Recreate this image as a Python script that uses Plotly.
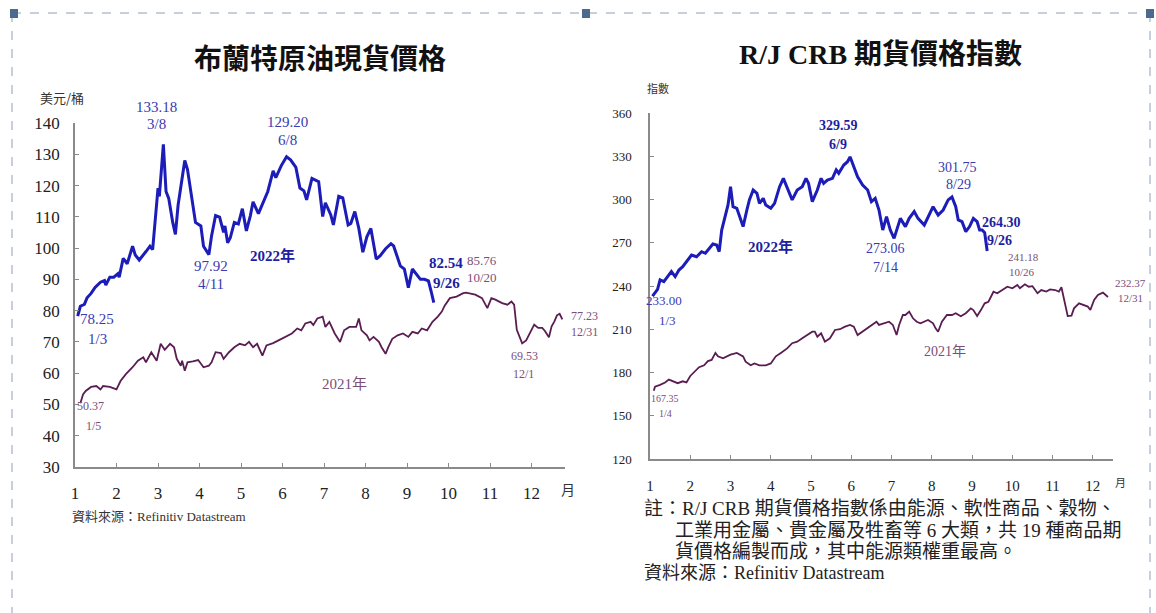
import plotly.graph_objects as go
import pandas as pd

# ---- Brent spot price (US$/bbl) ----
brent22_dates = ["2022-01-03", "2022-01-05", "2022-01-08", "2022-01-10", "2022-01-13", "2022-01-16",
                 "2022-01-20", "2022-01-23", "2022-01-24", "2022-01-27", "2022-01-30", "2022-02-02",
                 "2022-02-03", "2022-02-06", "2022-02-09", "2022-02-13", "2022-02-15", "2022-02-18",
                 "2022-02-23", "2022-02-26", "2022-02-28", "2022-03-02", "2022-03-04", "2022-03-05",
                 "2022-03-08", "2022-03-10", "2022-03-12", "2022-03-15", "2022-03-17", "2022-03-19",
                 "2022-03-22", "2022-03-24", "2022-03-26", "2022-03-29", "2022-04-01", "2022-04-05",
                 "2022-04-07", "2022-04-11", "2022-04-13", "2022-04-16", "2022-04-19", "2022-04-22",
                 "2022-04-23", "2022-04-25", "2022-04-27", "2022-04-30", "2022-05-03", "2022-05-06",
                 "2022-05-09", "2022-05-12", "2022-05-14", "2022-05-18", "2022-05-22", "2022-05-25",
                 "2022-05-29", "2022-05-31", "2022-06-04", "2022-06-08", "2022-06-11", "2022-06-15",
                 "2022-06-18", "2022-06-21", "2022-06-23", "2022-06-27", "2022-07-02", "2022-07-05",
                 "2022-07-07", "2022-07-11", "2022-07-13", "2022-07-17", "2022-07-20", "2022-07-24",
                 "2022-07-26", "2022-07-29", "2022-08-01", "2022-08-04", "2022-08-07", "2022-08-10",
                 "2022-08-14", "2022-08-17", "2022-08-21", "2022-08-25", "2022-08-27", "2022-09-01",
                 "2022-09-04", "2022-09-07", "2022-09-10", "2022-09-13", "2022-09-16", "2022-09-19",
                 "2022-09-22", "2022-09-24", "2022-09-26"]
brent22 = [78.25, 81.4, 82.0, 84.1, 85.5, 87.4,
           89.1, 89.6, 88.2, 90.7, 90.7, 91.8,
           90.7, 96.7, 95.0, 100.6, 97.8, 96.2,
           98.9, 100.6, 99.5, 110.4, 119.2, 116.5,
           133.18, 118.1, 115.9, 108.2, 104.4, 113.7,
           122.5, 128.0, 125.2, 115.9, 108.2, 107.1,
           100.6, 97.92, 103.9, 110.4, 109.9, 105.0,
           107.1, 101.7, 103.3, 108.2, 107.7, 112.6,
           105.5, 110.4, 114.8, 111.0, 115.4, 118.1,
           124.7, 122.5, 126.3, 129.20, 128.2, 125.8,
           119.2, 118.3, 115.4, 122.3, 121.2, 110.1,
           114.5, 110.7, 107.4, 116.6, 116.1, 107.4,
           107.9, 111.7, 106.3, 98.7, 103.6, 106.3,
           96.5, 97.6, 99.8, 101.4, 100.7, 94.3,
           93.3, 87.3, 93.3, 91.6, 90.0, 90.0,
           89.5, 86.2, 82.54]

brent21_dates = ["2021-01-05", "2021-01-07", "2021-01-09", "2021-01-13", "2021-01-17", "2021-01-20",
                 "2021-01-22", "2021-01-27", "2021-02-01", "2021-02-04", "2021-02-08", "2021-02-13",
                 "2021-02-17", "2021-02-21", "2021-02-23", "2021-02-27", "2021-03-03", "2021-03-06",
                 "2021-03-09", "2021-03-13", "2021-03-16", "2021-03-18", "2021-03-21", "2021-03-22",
                 "2021-03-24", "2021-03-26", "2021-03-30", "2021-04-03", "2021-04-07", "2021-04-11",
                 "2021-04-13", "2021-04-16", "2021-04-20", "2021-04-22", "2021-04-26", "2021-04-30",
                 "2021-05-04", "2021-05-08", "2021-05-11", "2021-05-14", "2021-05-17", "2021-05-21",
                 "2021-05-24", "2021-05-29", "2021-06-02", "2021-06-07", "2021-06-12", "2021-06-16",
                 "2021-06-19", "2021-06-22", "2021-06-26", "2021-06-28", "2021-07-01", "2021-07-05",
                 "2021-07-07", "2021-07-10", "2021-07-14", "2021-07-18", "2021-07-21", "2021-07-25",
                 "2021-07-30", "2021-08-01", "2021-08-03", "2021-08-07", "2021-08-09", "2021-08-12",
                 "2021-08-16", "2021-08-18", "2021-08-21", "2021-08-23", "2021-08-26", "2021-08-30",
                 "2021-09-03", "2021-09-07", "2021-09-10", "2021-09-14", "2021-09-17", "2021-09-21",
                 "2021-09-25", "2021-09-29", "2021-10-02", "2021-10-04", "2021-10-08", "2021-10-13",
                 "2021-10-18", "2021-10-20", "2021-10-27", "2021-11-01", "2021-11-03", "2021-11-05",
                 "2021-11-08", "2021-11-11", "2021-11-16", "2021-11-20", "2021-11-23", "2021-11-25",
                 "2021-11-27", "2021-12-01", "2021-12-04", "2021-12-07", "2021-12-10", "2021-12-13",
                 "2021-12-16", "2021-12-18", "2021-12-21", "2021-12-23", "2021-12-25", "2021-12-27",
                 "2021-12-29", "2021-12-31"]
brent21 = [50.37, 53.2, 54.3, 55.6, 55.9, 54.8,
           55.9, 55.6, 54.8, 57.5, 59.7, 61.9,
           64.0, 65.1, 63.5, 66.7, 64.0, 69.4,
           67.5, 69.4, 68.3, 64.6, 62.4, 64.0,
           60.8, 63.5, 63.8, 64.2, 61.9, 62.4,
           63.5, 66.7, 66.4, 64.6, 66.7, 68.3,
           69.4, 68.9, 70.0, 68.3, 69.4, 65.6,
           68.9, 69.6, 70.5, 71.6, 72.7, 74.3,
           73.7, 75.9, 76.4, 75.4, 77.5, 78.1,
           74.8, 76.4, 72.7, 70.0, 73.7, 74.8,
           74.8, 77.5, 73.7, 72.1, 70.5, 71.6,
           70.0, 68.3, 66.2, 68.3, 71.0, 72.1,
           72.7, 71.6, 73.2, 72.7, 74.3, 73.7,
           76.4, 78.1, 79.7, 81.5, 84.0, 84.5,
           85.6, 85.76, 85.1, 84.0, 82.4, 80.8,
           84.0, 83.5, 82.4, 81.9, 82.9, 81.9,
           73.9, 69.53, 70.5, 73.0, 75.5, 74.5,
           74.5, 73.5, 71.5, 75.0, 76.5, 78.5,
           79.0, 77.23]

# ---- R/J CRB futures price index ----
crb22_dates = ["2022-01-03", "2022-01-07", "2022-01-09", "2022-01-12", "2022-01-15", "2022-01-18",
               "2022-01-21", "2022-01-24", "2022-01-27", "2022-01-31", "2022-02-03", "2022-02-07",
               "2022-02-11", "2022-02-14", "2022-02-17", "2022-02-20", "2022-02-23", "2022-02-25",
               "2022-02-27", "2022-03-02", "2022-03-04", "2022-03-06", "2022-03-08", "2022-03-11",
               "2022-03-13", "2022-03-16", "2022-03-19", "2022-03-21", "2022-03-24", "2022-03-27",
               "2022-03-29", "2022-04-01", "2022-04-03", "2022-04-07", "2022-04-10", "2022-04-14",
               "2022-04-17", "2022-04-20", "2022-04-24", "2022-04-28", "2022-05-02", "2022-05-05",
               "2022-05-07", "2022-05-10", "2022-05-14", "2022-05-17", "2022-05-19", "2022-05-22",
               "2022-05-26", "2022-05-29", "2022-05-31", "2022-06-04", "2022-06-07", "2022-06-09",
               "2022-06-12", "2022-06-15", "2022-06-19", "2022-06-23", "2022-06-26", "2022-06-29",
               "2022-07-02", "2022-07-05", "2022-07-08", "2022-07-11", "2022-07-14", "2022-07-17",
               "2022-07-19", "2022-07-23", "2022-07-26", "2022-07-30", "2022-08-02", "2022-08-07",
               "2022-08-10", "2022-08-14", "2022-08-18", "2022-08-22", "2022-08-26", "2022-08-29",
               "2022-09-01", "2022-09-03", "2022-09-06", "2022-09-09", "2022-09-12", "2022-09-15",
               "2022-09-18", "2022-09-20", "2022-09-22", "2022-09-24", "2022-09-26"]
crb22 = [233.00, 237.7, 244.2, 243.0, 246.5, 250.0,
         246.5, 251.1, 253.4, 258.0, 261.5, 260.3,
         263.8, 262.7, 266.1, 269.1, 268.4, 263.8,
         278.8, 289.2, 296.2, 308.9, 295.0, 293.9,
         288.1, 281.2, 292.7, 299.7, 306.6, 304.3,
         297.3, 300.8, 296.2, 293.9, 297.3, 308.9,
         314.7, 307.7, 299.7, 306.6, 308.9, 314.7,
         311.2, 298.5, 306.6, 314.7, 311.2, 313.5,
         314.7, 320.5, 318.2, 323.9, 326.2, 329.59,
         322.8, 315.8, 310.0, 306.6, 298.5, 300.8,
         292.7, 278.8, 288.1, 278.8, 273.06, 282.3,
         286.9, 281.2, 286.9, 291.6, 286.9, 282.3,
         288.1, 295.0, 289.2, 292.7, 299.7, 301.75,
         295.0, 285.8, 284.6, 277.7, 281.2, 286.9,
         284.6, 278.8, 278.8, 277.0, 264.30]

crb21_dates = ["2021-01-04", "2021-01-05", "2021-01-09", "2021-01-13", "2021-01-16", "2021-01-20",
               "2021-01-23", "2021-01-27", "2021-01-30", "2021-02-02", "2021-02-05", "2021-02-09",
               "2021-02-13", "2021-02-16", "2021-02-19", "2021-02-22", "2021-02-24", "2021-02-28",
               "2021-03-06", "2021-03-11", "2021-03-16", "2021-03-18", "2021-03-22", "2021-03-25",
               "2021-03-29", "2021-04-03", "2021-04-07", "2021-04-11", "2021-04-15", "2021-04-20",
               "2021-04-24", "2021-04-28", "2021-05-02", "2021-05-06", "2021-05-10", "2021-05-12",
               "2021-05-14", "2021-05-17", "2021-05-20", "2021-05-24", "2021-05-28", "2021-06-01",
               "2021-06-05", "2021-06-09", "2021-06-12", "2021-06-15", "2021-06-19", "2021-06-23",
               "2021-06-27", "2021-06-30", "2021-07-02", "2021-07-06", "2021-07-10", "2021-07-13",
               "2021-07-16", "2021-07-18", "2021-07-21", "2021-07-23", "2021-07-26", "2021-07-29",
               "2021-08-01", "2021-08-04", "2021-08-07", "2021-08-10", "2021-08-14", "2021-08-16",
               "2021-08-18", "2021-08-21", "2021-08-25", "2021-08-29", "2021-09-01", "2021-09-05",
               "2021-09-09", "2021-09-13", "2021-09-15", "2021-09-18", "2021-09-21", "2021-09-24",
               "2021-09-27", "2021-10-01", "2021-10-04", "2021-10-08", "2021-10-12", "2021-10-16",
               "2021-10-20", "2021-10-22", "2021-10-26", "2021-10-29", "2021-11-01", "2021-11-05",
               "2021-11-08", "2021-11-12", "2021-11-15", "2021-11-19", "2021-11-22", "2021-11-24",
               "2021-11-27", "2021-11-29", "2021-12-02", "2021-12-04", "2021-12-08", "2021-12-11",
               "2021-12-15", "2021-12-17", "2021-12-20", "2021-12-23", "2021-12-27", "2021-12-31"]
crb21 = [167.35, 170.2, 171.4, 173.1, 175.1, 173.9,
         172.6, 173.9, 173.1, 177.6, 180.5, 183.7,
         185.0, 187.9, 188.7, 193.6, 191.2, 189.9,
         192.4, 193.6, 191.2, 187.5, 185.0, 186.3,
         185.0, 185.0, 186.3, 191.2, 193.6, 196.7,
         200.3, 201.4, 203.7, 206.0, 208.3, 208.3,
         204.8, 207.2, 201.4, 203.7, 209.5, 210.0,
         211.8, 213.0, 211.8, 206.0, 208.3, 210.6,
         213.0, 215.2, 213.0, 214.1, 215.2, 213.0,
         206.0, 213.0, 219.9, 219.9, 222.2, 217.6,
         215.2, 214.1, 215.2, 216.4, 214.1, 210.6,
         208.3, 215.2, 219.9, 219.9, 221.1, 219.0,
         221.1, 224.5, 223.3, 219.2, 223.3, 228.0,
         229.1, 236.0, 234.9, 237.2, 239.5, 238.4,
         240.7, 238.4, 241.18, 239.5, 239.9, 235.0,
         237.2, 236.1, 237.6, 237.2, 236.1, 239.1,
         225.7, 219.2, 219.5, 224.5, 228.0, 226.8,
         225.7, 223.4, 230.3, 233.8, 235.4, 232.37]

month_labels = [str(m) for m in range(1, 13)]
brent_yticks = list(range(30, 141, 10))
crb_yticks = list(range(120, 361, 30))


def doy(dates):
    # position along the axis = day of the year (Jan 1 -> 0)
    return (pd.to_datetime(pd.Series(dates)).dt.dayofyear - 1).tolist()


W, H = 1156, 613
BLUE = "#1c1cb8"
PURPLE = "#5a1d52"
SERIF = "Liberation Serif, Noto Sans CJK TC"
CJK = "Noto Sans CJK TC, Liberation Serif"

fig = go.Figure()
fig.add_trace(go.Scatter(x=doy(brent21_dates), y=brent21, mode="lines",
                         line=dict(color=PURPLE, width=1.8), xaxis="x", yaxis="y"))
fig.add_trace(go.Scatter(x=doy(brent22_dates), y=brent22, mode="lines",
                         line=dict(color=BLUE, width=3), xaxis="x", yaxis="y"))
fig.add_trace(go.Scatter(x=doy(crb21_dates), y=crb21, mode="lines",
                         line=dict(color=PURPLE, width=1.8), xaxis="x2", yaxis="y2"))
fig.add_trace(go.Scatter(x=doy(crb22_dates), y=crb22, mode="lines",
                         line=dict(color=BLUE, width=3), xaxis="x2", yaxis="y2"))


def px(x, y):
    return x / W, 1 - y / H


axis_common = dict(showline=True, linecolor="#8a8a8a", linewidth=1.5, ticks="inside",
                   tickcolor="#8a8a8a", ticklen=4, showgrid=False, zeroline=False,
                   fixedrange=True, automargin=False)

fig.update_layout(
    width=W, height=H, margin=dict(l=0, r=0, t=0, b=0),
    paper_bgcolor="white", plot_bgcolor="white", showlegend=False,
    xaxis=dict(domain=[75 / W, 565 / W], range=[0, 366], anchor="y",
               tickvals=[31 * i for i in range(12)], ticktext=month_labels,
               tickfont=dict(family=SERIF, size=17, color="#222"), ticklabelstandoff=10,
               **axis_common),
    yaxis=dict(domain=[1 - 467 / H, 1 - 123 / H], range=[30, 140], anchor="x",
               tickvals=brent_yticks, tickfont=dict(family=SERIF, size=17, color="#222"),
               ticklabelstandoff=10, **axis_common),
    xaxis2=dict(domain=[650 / W, 1113 / W], range=[0, 368], anchor="y2",
                tickvals=[32 * i for i in range(12)], ticktext=month_labels,
                tickfont=dict(family=SERIF, size=15, color="#222"), ticklabelstandoff=12,
                **axis_common),
    yaxis2=dict(domain=[1 - 459 / H, 1 - 113 / H], range=[120, 360], anchor="x2",
                tickvals=crb_yticks, tickfont=dict(family=SERIF, size=13, color="#222"),
                ticklabelstandoff=14, **axis_common),
)

ann = []


def label(x, y, text, size=15, color="#3a3ab0", bold=False, family=SERIF, xanchor="center"):
    ax, ay = px(x, y)
    if bold:
        text = "<b>" + text + "</b>"
    ann.append(dict(x=ax, y=ay, xref="paper", yref="paper", text=text, showarrow=False,
                    xanchor=xanchor, yanchor="middle",
                    font=dict(family=family, size=size, color=color)))


# titles and units
label(320, 57, "布蘭特原油現貨價格", size=28, color="#111", bold=True, family=CJK)
label(880, 55, "R/J CRB 期貨價格指數", size=28, color="#111", bold=True, family=SERIF)
label(62, 97, "美元/桶", size=13, color="#333", family=CJK)
label(658, 88, "指數", size=11, color="#333", family=CJK)
label(568, 489, "月", size=14, color="#333", family=CJK)
label(1120, 482, "月", size=11, color="#333", family=CJK)

# left chart labels
LB = "#3a3ab0"
DB = "#1e1ea0"
LP = "#7a4f78"
label(156, 107, "133.18", color=LB)
label(156, 124, "3/8", color=LB)
label(287, 122, "129.20", color=LB)
label(287, 140, "6/8", color=LB)
label(211, 266, "97.92", color=LB)
label(211, 284, "4/11", color=LB)
label(272, 255, "2022年", size=15, color=DB, bold=True)
label(97, 319, "78.25", color=LB)
label(97, 339, "1/3", color=LB)
label(446, 263, "82.54", size=15, color=DB, bold=True)
label(446, 283, "9/26", size=15, color=DB, bold=True)
label(482, 260, "85.76", size=13, color=LP)
label(482, 277, "10/20", size=13, color=LP)
label(584, 316, "77.23", size=12, color=LP)
label(584, 332, "12/31", size=12, color=LP)
label(524, 356, "69.53", size=12, color=LP)
label(523, 374, "12/1", size=12, color=LP)
label(344, 384, "2021年", size=15, color=LP)
label(90, 406, "50.37", size=12, color=LP)
label(93, 426, "1/5", size=12, color=LP)
label(70, 516, "資料來源：Refinitiv Datastream", size=13, color="#333", xanchor="left")

# right chart labels
label(838, 126, "329.59", size=14, color=DB, bold=True)
label(838, 145, "6/9", size=14, color=DB, bold=True)
label(957, 167, "301.75", size=14, color=LB)
label(958, 184, "8/29", size=14, color=LB)
label(1001, 222, "264.30", size=14, color=DB, bold=True)
label(999, 240, "9/26", size=14, color=DB, bold=True)
label(885, 249, "273.06", size=14, color=LB)
label(885, 268, "7/14", size=14, color=LB)
label(770, 247, "2022年", size=15, color=DB, bold=True)
label(664, 300, "233.00", size=13, color=LB)
label(667, 320, "1/3", size=13, color=LB)
label(1023, 257, "241.18", size=11, color=LP)
label(1022, 272, "10/26", size=11, color=LP)
label(1130, 283, "232.37", size=11, color=LP)
label(1130, 298, "12/31", size=11, color=LP)
label(945, 351, "2021年", size=14, color=LP)
label(665, 398, "167.35", size=10, color=LP)
label(665, 413, "1/4", size=10, color=LP)

# note under the right chart
label(642, 508, "註：R/J CRB 期貨價格指數係由能源、軟性商品、穀物、", size=19, color="#222",
      xanchor="left")
label(673, 530, "工業用金屬、貴金屬及牲畜等 6 大類，共 19 種商品期", size=19, color="#222",
      xanchor="left")
label(673, 551, "貨價格編製而成，其中能源類權重最高。", size=19, color="#222", xanchor="left")
label(642, 573, "資料來源：Refinitiv Datastream", size=18, color="#222", xanchor="left")

fig.update_layout(annotations=ann)

# dashed frame with small corner squares
shapes = []
for x0, y0, x1, y1 in [(12, 13, 1150, 13), (12, 13, 12, 613), (1150, 13, 1150, 613)]:
    a0, b0 = px(x0, y0)
    a1, b1 = px(x1, y1)
    shapes.append(dict(type="line", xref="paper", yref="paper", x0=a0, y0=b0, x1=a1, y1=b1,
                       line=dict(color="#8fa0b5", width=1, dash="dash")))
for cx in [14, 586, 1150]:
    a0, b0 = px(cx - 4, 9)
    a1, b1 = px(cx + 4, 18)
    shapes.append(dict(type="rect", xref="paper", yref="paper", x0=a0, y0=b0, x1=a1, y1=b1,
                       fillcolor="#4c6a8e", line=dict(width=0)))
fig.update_layout(shapes=shapes)

# drop the browser's default page margin so the figure sits at the window's corner
fig.write_html("out.html", config={"displayModeBar": False},
               post_script="document.body.style.margin='0';")
